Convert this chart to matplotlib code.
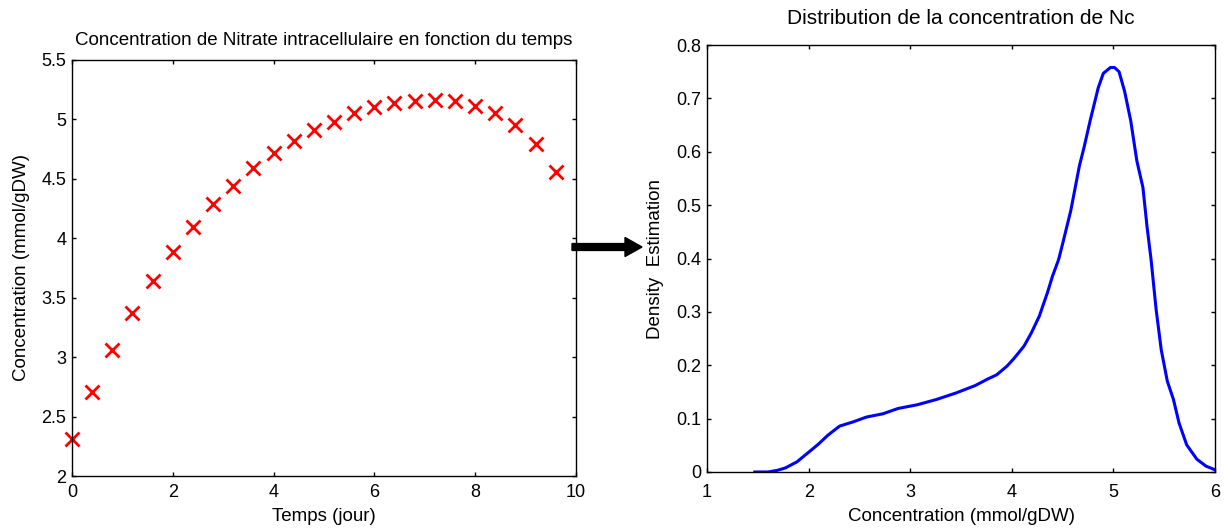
import matplotlib
matplotlib.use("Agg")
import matplotlib.pyplot as plt
import numpy as np

plt.rcParams['font.family'] = ['Liberation Sans', 'DejaVu Sans']

# Left chart data
temps = [0.0, 0.4, 0.8, 1.2, 1.6, 2.0, 2.4, 2.8, 3.2, 3.6, 4.0, 4.4, 4.8,
         5.2, 5.6, 6.0, 6.4, 6.8, 7.2, 7.6, 8.0, 8.4, 8.8, 9.2, 9.6]
conc = [2.31, 2.71, 3.06, 3.37, 3.64, 3.88, 4.09, 4.29, 4.44, 4.59, 4.72, 4.82, 4.91,
        4.98, 5.05, 5.10, 5.14, 5.15, 5.16, 5.15, 5.11, 5.05, 4.95, 4.79, 4.56]

# Right chart data (density estimate)
nc_x = [1.47, 1.60, 1.69, 1.77, 1.885, 2.0, 2.095, 2.19, 2.305, 2.44, 2.57, 2.73, 2.88,
        3.07, 3.26, 3.45, 3.64, 3.76, 3.85, 3.95, 4.02, 4.12, 4.19, 4.27, 4.35, 4.40,
        4.46, 4.50, 4.58, 4.665, 4.71, 4.77, 4.85, 4.90, 4.97, 5.01, 5.055, 5.11, 5.17,
        5.23, 5.29, 5.33, 5.37, 5.42, 5.47, 5.53, 5.59, 5.645, 5.72, 5.82, 5.91, 6.0]
nc_d = [0.0, 0.0, 0.003, 0.0075, 0.019, 0.037, 0.052, 0.069, 0.086, 0.094, 0.103, 0.109, 0.119,
        0.126, 0.136, 0.148, 0.162, 0.174, 0.182, 0.198, 0.2125, 0.236, 0.26, 0.292, 0.336, 0.367,
        0.398, 0.428, 0.49, 0.574, 0.608, 0.658, 0.72, 0.747, 0.758, 0.758, 0.75, 0.713, 0.658,
        0.583, 0.533, 0.46, 0.398, 0.304, 0.229, 0.17, 0.136, 0.092, 0.051, 0.024, 0.011, 0.004]

fig = plt.figure(figsize=(12.26, 5.29), dpi=100)

def style(ax, xpad):
    ax.tick_params(direction='in', top=True, right=True, length=3, width=1,
                   labelsize=13, pad=4, colors='black')
    ax.tick_params(axis='x', pad=xpad)
    for s in ax.spines.values():
        s.set_linewidth(1.0)

ax1 = fig.add_axes([0.0587, 0.100, 0.411, 0.787])
ax1.plot(temps, conc, linestyle='none', marker='x', color='red', markersize=10,
         markeredgewidth=2, clip_on=False)
ax1.set_xlim(0, 10)
ax1.set_ylim(2, 5.5)
ax1.set_xticks([0, 2, 4, 6, 8, 10])
ax1.set_yticks([2, 2.5, 3, 3.5, 4, 4.5, 5, 5.5])
ax1.set_yticklabels(['2', '2.5', '3', '3.5', '4', '4.5', '5', '5.5'])
ax1.set_title('Concentration de Nitrate intracellulaire en fonction du temps', fontsize=13.5, pad=10.5)
ax1.set_xlabel('Temps (jour)', fontsize=13.5, labelpad=5)
ax1.set_ylabel('Concentration (mmol/gDW)', fontsize=13.5, labelpad=8.5)
style(ax1, 5.5)

ax2 = fig.add_axes([0.5767, 0.1078, 0.4144, 0.807])
ax2.plot(nc_x, nc_d, color='#0000ff', linewidth=2.2)
ax2.set_xlim(1, 6)
ax2.set_ylim(0, 0.8)
ax2.set_xticks([1, 2, 3, 4, 5, 6])
ax2.set_yticks([0, 0.1, 0.2, 0.3, 0.4, 0.5, 0.6, 0.7, 0.8])
ax2.set_yticklabels(['0', '0.1', '0.2', '0.3', '0.4', '0.5', '0.6', '0.7', '0.8'])
ax2.set_title('Distribution de la concentration de Nc', fontsize=15, pad=15)
ax2.set_xlabel('Concentration (mmol/gDW)', fontsize=13.5, labelpad=4.5)
ax2.set_ylabel('Density  Estimation', fontsize=13.5, labelpad=9)
style(ax2, 9)

# arrow between the panels
fig.patches.append(matplotlib.patches.FancyArrow(
    572 / 1226, 1 - 247 / 529, (625 - 572) / 1226, 0,
    width=0.013, head_width=0.036, head_length=17 / 1226, length_includes_head=False,
    color='black', transform=fig.transFigure, figure=fig))

fig.savefig('out.png', dpi=100)
